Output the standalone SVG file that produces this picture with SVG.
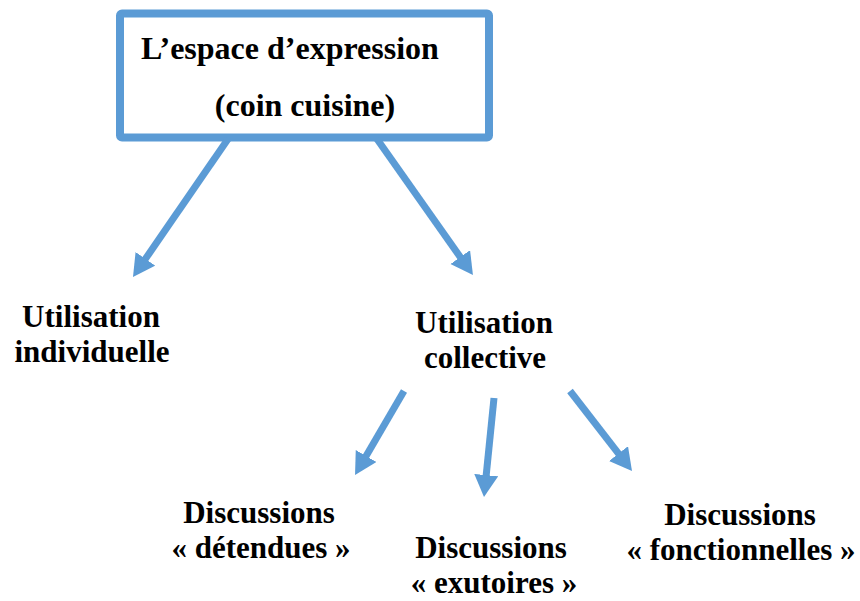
<svg xmlns="http://www.w3.org/2000/svg" width="860" height="601" viewBox="0 0 860 601">
<style>
text{font-family:"Liberation Serif","Times New Roman",serif;font-weight:bold;font-size:31px;fill:#000;text-anchor:middle}
.c{stroke:#5B9BD5;stroke-width:7;fill:none;marker-end:url(#ah)}
</style>
<defs>
<marker id="ah" markerUnits="userSpaceOnUse" markerWidth="24" markerHeight="26" refX="7" refY="12" orient="auto">
<path d="M0,0 L22,12 L0,24 z" fill="#5B9BD5"/>
</marker>
</defs>
<rect width="860" height="601" fill="#fff"/>
<g id="root">
<rect x="120" y="13.5" width="369" height="124" fill="#fff" stroke="#5B9BD5" stroke-width="8" rx="2"/>
<text x="290" y="59" style="font-size:32px">L’espace d’expression</text>
<text x="305" y="116" style="font-size:32px">(coin cuisine)</text>
</g>
<g id="individuelle">
<text x="91" y="327">Utilisation</text>
<text x="92" y="362">individuelle</text>
</g>
<g id="collective">
<text x="484" y="333">Utilisation</text>
<text x="485" y="368">collective</text>
</g>
<g id="detendues">
<text x="259" y="523">Discussions</text>
<text x="261" y="558">« détendues »</text>
</g>
<g id="exutoires">
<text x="491" y="558">Discussions</text>
<text x="494" y="593">« exutoires »</text>
</g>
<g id="fonctionnelles">
<text x="740" y="525">Discussions</text>
<text x="741" y="560">« fonctionnelles »</text>
</g>
<g id="connectors">
<line class="c" x1="228" y1="139" x2="141.5" y2="264.6"/>
<line class="c" x1="377" y1="139" x2="464.3" y2="262.8"/>
<line class="c" x1="404" y1="391" x2="362.6" y2="462"/>
<line class="c" x1="494" y1="398" x2="485.5" y2="482.1"/>
<line class="c" x1="570" y1="391" x2="622.8" y2="459.1"/>
</g>
</svg>
